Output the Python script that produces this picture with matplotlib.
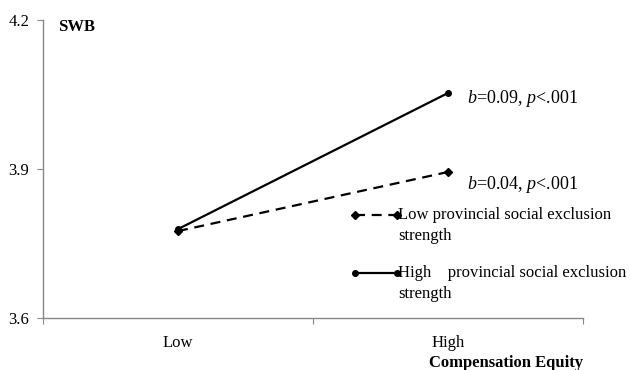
import matplotlib
matplotlib.use("Agg")
import matplotlib.pyplot as plt
from matplotlib.lines import Line2D

categories = ["Low", "High"]
low_excl = [3.775, 3.894]
high_excl = [3.779, 4.053]
low_label = "Low provincial social exclusion\nstrength"
high_label = "High    provincial social exclusion\nstrength"
annot_low = "$b$=0.04, $p$<.001"
annot_high = "$b$=0.09, $p$<.001"
yticks = [3.6, 3.9, 4.2]

plt.rcParams['font.family'] = ['Liberation Serif', 'DejaVu Serif']
plt.rcParams['mathtext.fontset'] = 'custom'
plt.rcParams['mathtext.rm'] = 'Liberation Serif'
plt.rcParams['mathtext.it'] = 'Liberation Serif:italic'

W, H = 630, 370
fig = plt.figure(figsize=(6.3, 3.7), dpi=100)
ax = fig.add_axes([43/W, 1-318/H, 540/W, 298/H])

xs = [0.5, 1.5]
solid_style = dict(color='black', lw=1.6, marker='o', ms=4)
dash_style = dict(color='black', lw=1.6, ls=(0, (4.5, 3)), marker='D', ms=4.5)
ax.plot(xs, high_excl, **solid_style)
ax.plot(xs, low_excl, **dash_style)

ax.set_xlim(0, 2)
ax.set_ylim(3.6, 4.2)
ax.set_yticks(yticks)
ax.set_yticklabels([f"{v:.1f}" for v in yticks], fontsize=12)
ax.set_xticks([0, 1, 2])
ax.set_xticklabels([])
ax.set_xticks(xs, minor=True)
ax.set_xticklabels(categories, minor=True, fontsize=12)
ax.tick_params(axis='x', which='minor', length=0, pad=12)
ax.tick_params(axis='x', which='major', length=4, color='#888888')
ax.tick_params(axis='y', length=4, color='#888888', pad=6)

for s in ['top', 'right']:
    ax.spines[s].set_visible(False)
for s in ['left', 'bottom']:
    ax.spines[s].set_color('#888888')
    ax.spines[s].set_linewidth(1.0)

ax.annotate(annot_high, (xs[1], high_excl[1]), xytext=(14, -4), textcoords='offset points',
            fontsize=13, va='center', ha='left')
ax.annotate(annot_low, (xs[1], low_excl[1]), xytext=(14, -9), textcoords='offset points',
            fontsize=13, va='center', ha='left')

fig.text(58/W, 1-27/H, "SWB", fontsize=12, fontweight='bold', va='center', ha='left')
fig.text(583/W, 1-363/H, "Compensation Equity", fontsize=12, fontweight='bold',
         va='center', ha='right')

# legend drawn manually (handle aligned with first text line)
for ypx, style, label in [(215, dash_style, low_label), (273, solid_style, high_label)]:
    fig.add_artist(Line2D([355/W, 397/W], [1-ypx/H, 1-ypx/H], transform=fig.transFigure, **style))
    fig.text(398/W, 1-(ypx-8)/H, label, fontsize=12, va='top', ha='left', linespacing=1.4)

fig.savefig("out.png", dpi=100)
